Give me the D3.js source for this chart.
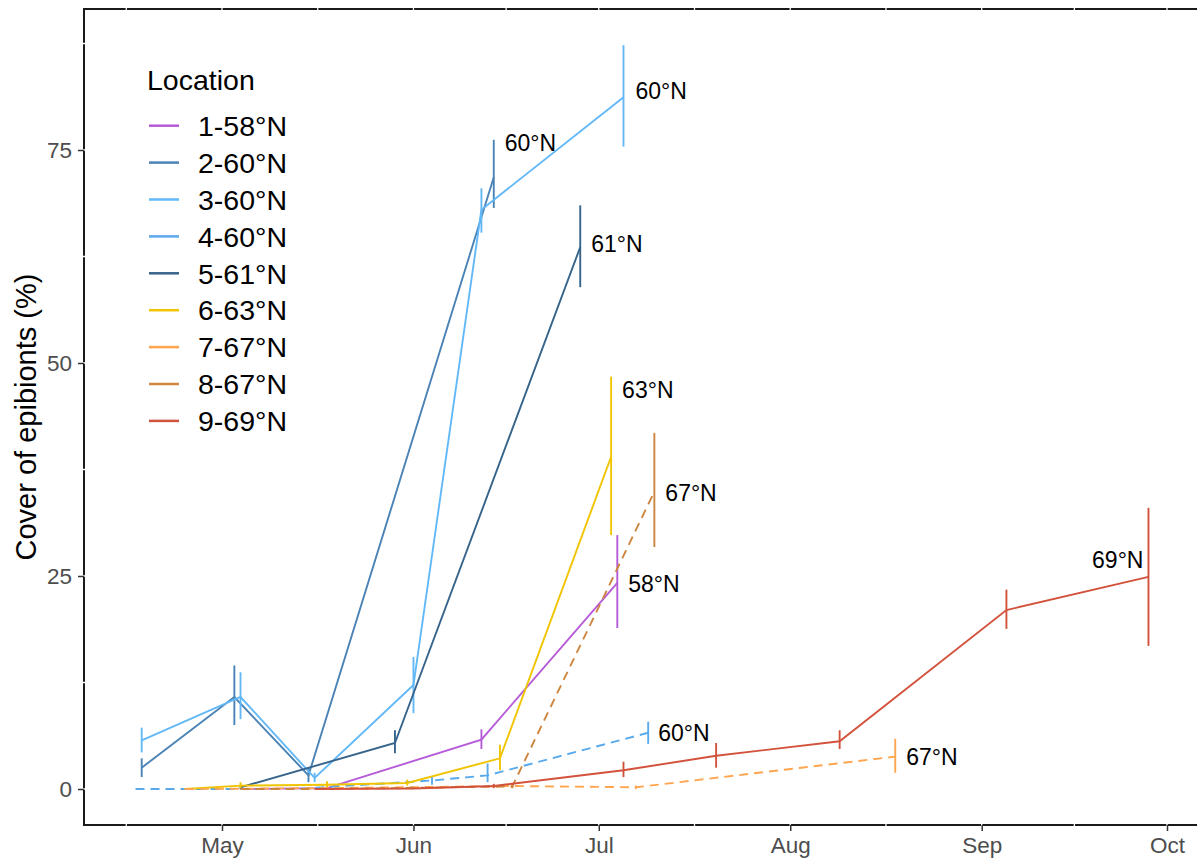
<!DOCTYPE html>
<html>
<head>
<meta charset="utf-8">
<script src="https://cdn.jsdelivr.net/npm/d3@7"></script>
<style>
  body { margin: 0; background: #fff; }
  svg { display: block; font-family: "Liberation Sans", Arial, sans-serif; }
</style>
</head>
<body>
<div class="wrapper"></div>
<script>
// each row: [date, mean cover, lower, upper]
const loc1 = [["2019-05-04", 0, 0, 0], ["2019-05-18", 0.1, 0, 0.2], ["2019-06-12", 5.8, 4.7, 7.0], ["2019-07-04", 24.2, 18.9, 29.8]]
const loc2 = [["2019-04-18", 2.5, 1.4, 3.6], ["2019-05-03", 10.8, 7.5, 14.5], ["2019-05-15", 1.6, 0.8, 2.5], ["2019-06-14", 71.8, 68.2, 76.2]]
const loc3 = [["2019-04-18", 5.7, 4.3, 7.2], ["2019-05-04", 10.8, 8.2, 13.7], ["2019-05-16", 1.3, 0.8, 1.9], ["2019-06-01", 12.2, 8.9, 15.5], ["2019-06-12", 68.0, 65.3, 70.5], ["2019-07-05", 81.2, 75.4, 87.3]]
const loc4 = [["2019-04-17", 0, 0, 0], ["2019-05-13", 0, 0, 0], ["2019-06-04", 1.0, 0.5, 1.5], ["2019-06-13", 1.6, 0.8, 3.0], ["2019-07-09", 6.6, 5.3, 7.9]]
const loc5 = [["2019-05-04", 0.2, 0, 0.4], ["2019-05-29", 5.4, 4.2, 6.9], ["2019-06-28", 63.6, 58.9, 68.5]]
const loc6 = [["2019-04-25", 0, 0, 0.1], ["2019-05-04", 0.4, 0.1, 0.8], ["2019-05-18", 0.5, 0.2, 0.9], ["2019-05-31", 0.7, 0.4, 1.1], ["2019-06-15", 3.6, 2.2, 5.2], ["2019-07-03", 39.0, 29.8, 48.4]]
const loc7 = [["2019-04-25", 0, 0, 0], ["2019-05-18", 0.1, 0, 0.2], ["2019-06-17", 0.35, 0.1, 0.6], ["2019-07-07", 0.2, 0, 0.4], ["2019-08-18", 3.8, 1.9, 5.9]]
const loc8 = [["2019-05-04", 0, 0, 0], ["2019-05-18", 0, 0, 0], ["2019-06-17", 0.3, 0.1, 0.5], ["2019-07-10", 34.9, 28.4, 41.8]]
const loc9 = [["2019-05-16", 0, 0, 0], ["2019-06-01", 0.05, 0, 0.1], ["2019-06-14", 0.35, 0.1, 0.6], ["2019-07-05", 2.2, 1.4, 3.2], ["2019-07-20", 3.9, 2.5, 5.4], ["2019-08-09", 5.6, 4.7, 6.9], ["2019-09-05", 21.0, 18.8, 23.4], ["2019-09-28", 24.9, 16.8, 33.0]]

const locNames = ["1-58°N", "2-60°N", "3-60°N", "4-60°N", "5-61°N", "6-63°N", "7-67°N", "8-67°N", "9-69°N"]
const endLabels = ["58°N", "60°N", "60°N", "60°N", "61°N", "63°N", "67°N", "67°N", "69°N"]
const monthTicks = ["2019-05-01", "2019-06-01", "2019-07-01", "2019-08-01", "2019-09-01", "2019-10-01"]
const yTicks = [0, 25, 50, 75]

// styling
const locColors = ["#B65AD8", "#4A83B5", "#63B8F7", "#5AAAEB", "#37648B", "#F0C400", "#FFA54F", "#CD853F", "#D2523C"]
const dashed = [false, false, false, true, false, false, true, true, false]
// label offsets in px from last point [dx, dy, anchor]
const labelOffsets = [[11, 1, "start"], [11, -34, "start"], [12, -6, "start"], [10, 0, "start"], [11, -3, "start"],
                      [11, -67, "start"], [11, 0, "start"], [11, 1, "start"], [-5, -17, "end"]]

const parseDate = d3.timeParse("%Y-%m-%d")
const series = [loc1, loc2, loc3, loc4, loc5, loc6, loc7, loc8, loc9].map((rows, i) => ({
  name: locNames[i],
  label: endLabels[i],
  color: locColors[i],
  dashed: dashed[i],
  values: rows.map(r => ({date: parseDate(r[0]), mean: r[1], lo: r[2], hi: r[3]}))
}))

// the panel runs a few px past the right edge of the picture
let dimensions = {
  width: 1197,
  height: 861,
  margin: {top: 9, right: -5, bottom: 36, left: 84}
}
dimensions.boundedWidth = dimensions.width - dimensions.margin.left - dimensions.margin.right
dimensions.boundedHeight = dimensions.height - dimensions.margin.top - dimensions.margin.bottom

const wrapper = d3.select(".wrapper")
  .append("svg")
    .attr("width", dimensions.width)
    .attr("height", dimensions.height)

const bounds = wrapper.append("g")
  .attr("transform", `translate(${dimensions.margin.left},${dimensions.margin.top})`)

// scales, calibrated so the ticks land where the original has them
const xAnchor = d3.scaleTime()
  .domain([parseDate("2019-05-01"), parseDate("2019-10-01")])
  .range([138, 1083])
const xScale = d3.scaleTime()
  .domain([xAnchor.invert(0), xAnchor.invert(dimensions.boundedWidth)])
  .range([0, dimensions.boundedWidth])

const yAnchor = d3.scaleLinear().domain([0, 75]).range([780, 141])
const yScale = d3.scaleLinear()
  .domain([yAnchor.invert(dimensions.boundedHeight), yAnchor.invert(0)])
  .range([dimensions.boundedHeight, 0])

// panel border
bounds.append("rect")
  .attr("width", dimensions.boundedWidth)
  .attr("height", dimensions.boundedHeight)
  .attr("fill", "none")
  .attr("stroke", "#1a1a1a")
  .attr("stroke-width", 2)

// white grid (only shows where it cuts the border)
const monthDates = monthTicks.map(parseDate)
const step0 = monthDates[1] - monthDates[0]
const xMinor = [new Date(+monthDates[0] - step0 / 2)]
  .concat(d3.pairs(monthDates).map(p => new Date((+p[0] + +p[1]) / 2)))
const xGrid = monthDates.concat(xMinor)
const yGrid = yTicks.concat(yTicks.map(t => t + 12.5))

bounds.append("g").selectAll("line")
  .data(xGrid)
  .join("line")
    .attr("x1", d => xScale(d)).attr("x2", d => xScale(d))
    .attr("y1", -2).attr("y2", dimensions.boundedHeight + 2)
    .attr("stroke", "#fff").attr("stroke-width", 1.3)

bounds.append("g").selectAll("line")
  .data(yGrid)
  .join("line")
    .attr("y1", d => yScale(d)).attr("y2", d => yScale(d))
    .attr("x1", -2).attr("x2", dimensions.boundedWidth + 2)
    .attr("stroke", "#fff").attr("stroke-width", 1.3)

// axes
const xAxis = d3.axisBottom(xScale)
  .tickValues(monthDates)
  .tickFormat(d3.timeFormat("%b"))
  .tickSize(6)
  .tickPadding(6)

const xAxisG = bounds.append("g")
  .attr("transform", `translate(0,${dimensions.boundedHeight})`)
  .call(xAxis)

const yAxis = d3.axisLeft(yScale)
  .tickValues(yTicks)
  .tickSize(6)
  .tickPadding(6)

const yAxisG = bounds.append("g").call(yAxis)

;[xAxisG, yAxisG].forEach(g => {
  g.select(".domain").remove()
  g.selectAll(".tick line").attr("stroke", "#333").attr("stroke-width", 1.5)
  g.selectAll(".tick text")
    .attr("fill", "#4D4D4D")
    .style("font-size", "22.5px")
    .style("font-family", "'Liberation Sans', Arial, sans-serif")
})

// axis title
wrapper.append("text")
  .attr("transform", `translate(36,${dimensions.margin.top + dimensions.boundedHeight / 2}) rotate(-90)`)
  .attr("text-anchor", "middle")
  .style("font-size", "29px")
  .text("Cover of epibionts (%)")

// lines
const lineGen = d3.line()
  .x(d => xScale(d.date))
  .y(d => yScale(d.mean))

const seriesG = bounds.selectAll(".series")
  .data(series)
  .join("g")
    .attr("class", "series")

seriesG.append("path")
  .attr("d", d => lineGen(d.values))
  .attr("fill", "none")
  .attr("stroke", d => d.color)
  .attr("stroke-width", 1.9)
  .attr("stroke-dasharray", d => d.dashed ? "9,6" : null)

seriesG.selectAll(".errbar")
  .data(d => d.values.filter(v => v.hi > v.lo).map(v => ({...v, color: d.color})))
  .join("line")
    .attr("class", "errbar")
    .attr("x1", d => xScale(d.date))
    .attr("x2", d => xScale(d.date))
    .attr("y1", d => yScale(d.lo))
    .attr("y2", d => yScale(d.hi))
    .attr("stroke", d => d.color)
    .attr("stroke-width", 1.9)

// end labels
seriesG.append("text")
  .attr("x", (d, i) => xScale(d.values[d.values.length - 1].date) + labelOffsets[i][0])
  .attr("y", (d, i) => yScale(d.values[d.values.length - 1].mean) + labelOffsets[i][1])
  .attr("dy", "0.35em")
  .attr("text-anchor", (d, i) => labelOffsets[i][2])
  .style("font-size", "23px")
  .text(d => d.label)

// legend
const legend = wrapper.append("g")
  .attr("transform", "translate(147,90)")

legend.append("text")
  .style("font-size", "28.5px")
  .text("Location")

const legendItems = legend.selectAll(".item")
  .data(series)
  .join("g")
    .attr("class", "item")
    .attr("transform", (d, i) => `translate(0,${35.7 + i * 36.9})`)

legendItems.append("line")
  .attr("x1", 2).attr("x2", 32)
  .attr("stroke", d => d.color)
  .attr("stroke-width", 2.5)

legendItems.append("text")
  .attr("x", 51)
  .attr("dy", "0.36em")
  .style("font-size", "28.5px")
  .text(d => d.name)
</script>
</body>
</html>
